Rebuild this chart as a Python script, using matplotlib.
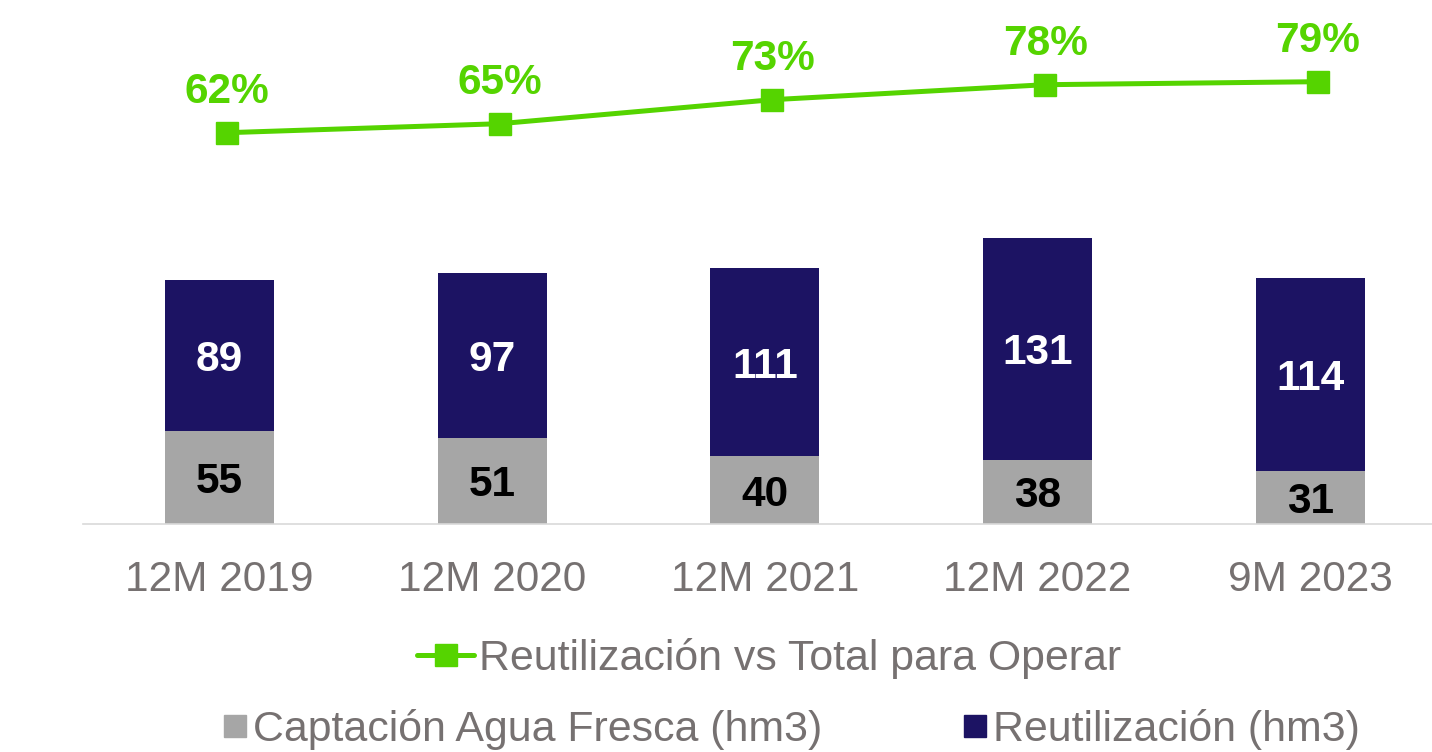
import matplotlib
matplotlib.use("Agg")
import matplotlib.pyplot as plt
from matplotlib.lines import Line2D

plt.rcParams['font.family'] = ['Liberation Sans', 'DejaVu Sans']

# ---- data ----
categories = ["12M 2019", "12M 2020", "12M 2021", "12M 2022", "9M 2023"]
captacion = [55, 51, 40, 38, 31]
reutilizacion = [89, 97, 111, 131, 114]
pct_reuse = [62, 65, 73, 78, 79]

series_names = ["Captación Agua Fresca (hm3)", "Reutilización (hm3)"]
line_name = "Reutilización vs Total para Operar"

# ---- style ----
GREEN = "#55D400"
NAVY = "#1C1363"
GRAY = "#A6A6A6"
TXT = "#767171"
FS = 30.5
FS_LEG = 30.9

W, H = 1432, 752
fig = plt.figure(figsize=(W / 100, H / 100), dpi=100)

base_px = 524
left_px = 83.15
width_px = 5 * 272.7
rect = [left_px / W, (H - base_px) / H, width_px / W, base_px / H]

ax = fig.add_axes(rect)
x = list(range(len(categories)))
bw = 0.40
ax.bar(x, captacion, width=bw, color=GRAY, zorder=2)
ax.bar(x, reutilizacion, width=bw, bottom=captacion, color=NAVY, zorder=2)

for xi, c, r in zip(x, captacion, reutilizacion):
    ax.text(xi, c / 2, f"{c}", ha="center", va="center_baseline",
            fontsize=FS, fontweight="bold", color="black", zorder=3)
    ax.text(xi, c + r / 2, f"{r}", ha="center", va="center_baseline",
            fontsize=FS, fontweight="bold", color="white", zorder=3)

ax.set_xlim(-0.5, 4.5)
ax.set_ylim(0, base_px / 1.695)
ax.set_xticks(x)
ax.set_xticklabels(categories, fontsize=FS, color=TXT)
ax.tick_params(axis="x", length=0, pad=26)
ax.set_yticks([])
for s in ["top", "right", "left"]:
    ax.spines[s].set_visible(False)
ax.spines["bottom"].set_color("#D9D9D9")
ax.spines["bottom"].set_linewidth(1.2)

# secondary axis for percentage line (slightly shifted category axis)
ax2 = fig.add_axes(rect)
ax2.patch.set_visible(False)
shift = 0.0275
ax2.set_xlim(-0.5 - shift, 4.5 - shift)
ax2.set_ylim(62 - (base_px - 132.7) / 3.0, 62 + 132.7 / 3.0)
ax2.plot(x, pct_reuse, color=GREEN, lw=3.6, marker="s", ms=15.8,
         solid_capstyle="round", zorder=4)
for xi, p in zip(x, pct_reuse):
    ax2.annotate(f"{p}%", (xi, p), xytext=(0, 30), textcoords="offset pixels",
                 ha="center", va="baseline", fontsize=FS, fontweight="bold",
                 color=GREEN)
ax2.axis("off")

# ---- legends ----
h_line = Line2D([], [], color=GREEN, lw=3.6, marker="s", ms=15.8,
                solid_capstyle="round")
leg1 = fig.legend([h_line], [line_name], loc="center left",
                  bbox_to_anchor=(417.3 / W, 1 - 658.3 / H),
                  fontsize=FS_LEG, frameon=False, borderpad=0, borderaxespad=0,
                  handlelength=1.32, handletextpad=0.12, labelcolor=TXT)

h_gray = Line2D([], [], ls="none", marker="s", ms=15.8, color=GRAY)
h_navy = Line2D([], [], ls="none", marker="s", ms=15.8, color=NAVY)
leg2 = fig.legend([h_gray, h_navy], series_names, loc="center left",
                  bbox_to_anchor=(224 / W, 1 - 729.7 / H), ncol=2,
                  fontsize=FS_LEG, frameon=False, borderpad=0, borderaxespad=0,
                  handlelength=0.52, handletextpad=0.16, columnspacing=3.3,
                  labelcolor=TXT)

fig.savefig("out.png", dpi=100)
